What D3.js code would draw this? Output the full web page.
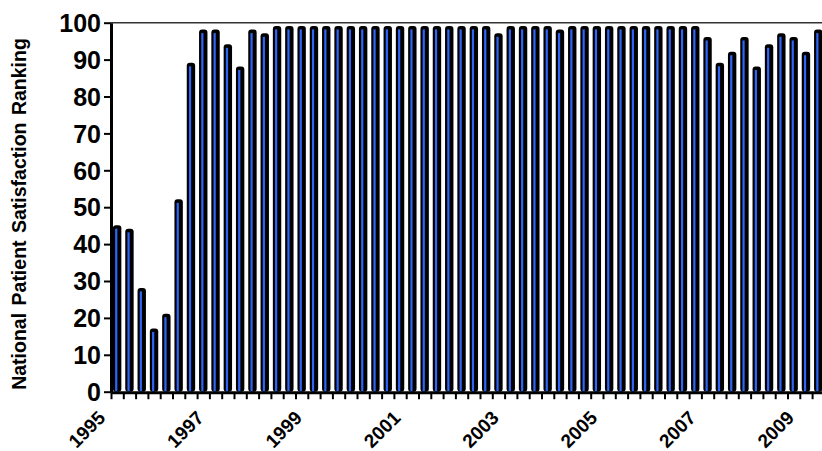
<!DOCTYPE html>
<html>
<head>
<meta charset="utf-8">
<script src="https://cdn.jsdelivr.net/npm/d3@7"></script>
<style>
  html, body { margin: 0; padding: 0; background: #fff; }
  svg { display: block; }
  text { font-family: "Liberation Sans", Arial, sans-serif; font-weight: bold; fill: #000; }
</style>
</head>
<body>
<svg id="chart" width="822" height="451"></svg>
<script>
// ---- data ----
const years = [1995, 1996, 1997, 1998, 1999, 2000, 2001, 2002, 2003, 2004, 2005, 2006, 2007, 2008, 2009];
const quarterNames = ["Q1", "Q2", "Q3", "Q4"];
const categories = years.flatMap(y => quarterNames.map(q => y + " " + q)).slice(0, 58);
const values = [
  45, 44, 28, 17, 21, 52, 89, 98, 98, 94, 88, 98, 97, 99, 99, 99,
  99, 99, 99, 99, 99, 99, 99, 99, 99, 99, 99, 99, 99, 99, 99, 97,
  99, 99, 99, 99, 98, 99, 99, 99, 99, 99, 99, 99, 99, 99, 99, 99,
  96, 89, 92, 96, 88, 94, 97, 96, 92, 98
];
const yTicks = [0, 10, 20, 30, 40, 50, 60, 70, 80, 90, 100];
const yearLabels = ["1995", "1997", "1999", "2001", "2003", "2005", "2007", "2009"];
const yTitle = "National Patient Satisfaction Ranking";

// ---- layout ----
const svg = d3.select("#chart");
const plotLeft = 111, plotTop = 22.7, plotBottom = 391.7, step = 12.3;
const plotRight = plotLeft + categories.length * step;

const x = d3.scaleBand().domain(categories).range([plotLeft, plotRight]).padding(0);
const xi = d3.scaleLinear().domain([0, categories.length]).range([plotLeft, plotRight]);
const y = d3.scaleLinear().domain([0, 100]).range([plotBottom, plotTop]);

// top frame line
svg.append("line")
  .attr("x1", plotLeft).attr("x2", 822)
  .attr("y1", y(100)).attr("y2", y(100))
  .attr("stroke", "#333").attr("stroke-width", 1.5);

// bars
const bw = x.bandwidth();
const g = svg.append("g");
categories.forEach((c, i) => {
  const cx = x(c) + bw / 2;
  const yt = y(values[i]);
  g.append("rect")
    .attr("x", cx - 4.2).attr("width", 8.4)
    .attr("y", yt - 0.5).attr("height", plotBottom - yt + 0.5)
    .attr("rx", 3).attr("ry", 3)
    .attr("fill", "#000");
  g.append("rect")
    .attr("x", cx - 2.0).attr("width", 2.2)
    .attr("y", yt + 3).attr("height", Math.max(0, plotBottom - yt - 3))
    .attr("fill", "#2f66f5");
});

// y axis
const yAxis = svg.append("g")
  .attr("transform", `translate(${plotLeft},0)`)
  .call(d3.axisLeft(y).tickValues(yTicks).tickSize(7).tickPadding(3).tickSizeOuter(0));
yAxis.select(".domain").attr("stroke", "#000").attr("stroke-width", 3);
yAxis.selectAll(".tick line").attr("stroke", "#000").attr("stroke-width", 2);
yAxis.selectAll(".tick text")
  .style("font-size", "25px").style("font-weight", "bold")
  .style("font-family", '"Liberation Sans", Arial, sans-serif')
  .attr("dy", "0.35em");

// x axis (ticks at category boundaries)
const xAxis = svg.append("g")
  .attr("transform", `translate(0,${plotBottom + 0.5})`)
  .call(d3.axisBottom(xi)
    .tickValues(d3.range(0, categories.length))
    .tickSize(7).tickSizeOuter(0)
    .tickFormat(""));
xAxis.select(".domain").attr("stroke", "#000").attr("stroke-width", 3);
xAxis.selectAll(".tick line").attr("stroke", "#000").attr("stroke-width", 2);

// rotated year labels
svg.append("g").selectAll("text")
  .data(yearLabels)
  .join("text")
  .attr("text-anchor", "end")
  .attr("transform", (d, i) => `translate(${xi(i * 8) - 4.5},419) rotate(-45)`)
  .style("font-size", "19px")
  .text(d => d);

// y title
svg.append("text")
  .attr("transform", `translate(25.5,214) rotate(-90)`)
  .attr("text-anchor", "middle")
  .style("font-size", "19.5px")
  .style("word-spacing", "2px")
  .text(yTitle);
</script>
</body>
</html>
